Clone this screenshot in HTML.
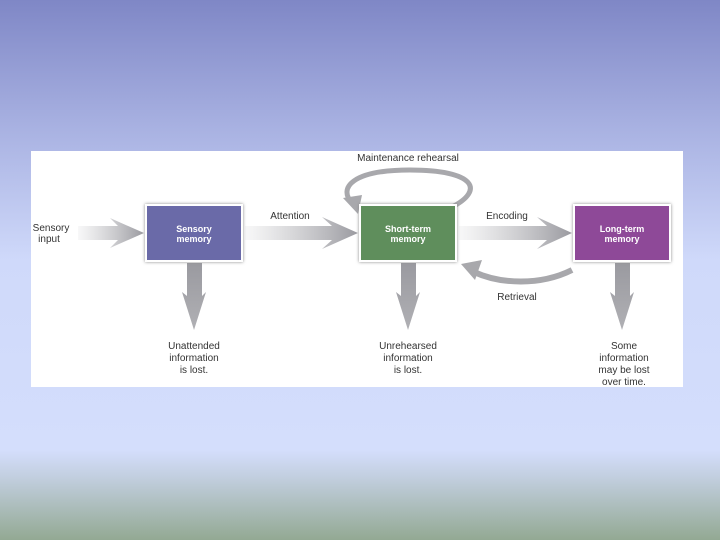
<!DOCTYPE html>
<html><head><style>
body{margin:0;width:720px;height:540px;overflow:hidden;font-family:"Liberation Sans",sans-serif;
background:linear-gradient(to bottom,#7f87c6 0px,#a9b2e2 130px,#cfd9fa 260px,#d4defc 450px,#c0cddc 480px,#93a993 540px);}
svg{position:absolute;left:0;top:0}
</style></head><body>
<svg width="720" height="540" xmlns="http://www.w3.org/2000/svg">
<defs>
<linearGradient id="gh" x1="0" x2="1" y1="0" y2="0"><stop offset="0" stop-color="#b8b8bc" stop-opacity="0.1"/><stop offset="1" stop-color="#9a9aa0"/></linearGradient>
<linearGradient id="gv" x1="0" x2="0" y1="0" y2="1"><stop offset="0" stop-color="#9a9aa0"/><stop offset="1" stop-color="#b0b0b4"/></linearGradient>
<filter id="sh"><feDropShadow dx="0" dy="0" stdDeviation="1.5" flood-color="#888"/></filter>
</defs>
<rect x="31" y="151" width="652" height="236" fill="#fff"/>
<path d="M78,226 H118 L110,218 L144,233 L110,248 L118,240 H78Z" fill="url(#gh)"/>
<path d="M245,226 H332 L322,217 L358,233 L322,249 L332,240 H245Z" fill="url(#gh)"/>
<path d="M459,226 H547 L537,217 L572,233 L537,249 L547,240 H459Z" fill="url(#gh)"/>
<path d="M187,263 H202 V296 L206,292 L194,330 L182,292 L187,296Z" fill="url(#gv)"/>
<path d="M401,263 H416 V296 L420,292 L408,330 L396,292 L401,296Z" fill="url(#gv)"/>
<path d="M615,263 H630 V296 L634,292 L622,330 L610,292 L615,296Z" fill="url(#gv)"/>
<path d="M452,207 C485,190 475,170 410,170 C352,170 338,188 352,203" fill="none" stroke="#a8a8ac" stroke-width="5"/>
<path d="M343,198 L358,214 L362,195Z" fill="#a8a8ac"/>
<path d="M572,270 C540,286 500,284 474,272" fill="none" stroke="#a8a8ac" stroke-width="6"/>
<path d="M461,264 L482,260 L475,280Z" fill="#a8a8ac"/>
<rect x="146" y="205" width="96" height="56" fill="#6a6aa8" stroke="#fff" stroke-width="2" filter="url(#sh)"/>
<rect x="360" y="205" width="96" height="56" fill="#5f8e5c" stroke="#fff" stroke-width="2" filter="url(#sh)"/>
<rect x="574" y="205" width="96" height="56" fill="#8e4a98" stroke="#fff" stroke-width="2" filter="url(#sh)"/>
<g font-family="Liberation Sans,sans-serif" font-size="9" font-weight="bold" fill="#fff" text-anchor="middle">
<text x="194" y="232">Sensory</text><text x="194" y="242">memory</text>
<text x="408" y="232">Short-term</text><text x="408" y="242">memory</text>
<text x="622" y="232">Long-term</text><text x="622" y="242">memory</text>
</g>
<g font-family="Liberation Sans,sans-serif" font-size="10" fill="#333" text-anchor="middle">
<text x="51" y="231">Sensory</text><text x="49" y="242">input</text>
<text x="290" y="219">Attention</text>
<text x="408" y="161">Maintenance rehearsal</text>
<text x="507" y="219">Encoding</text>
<text x="517" y="300">Retrieval</text>
<text x="194" y="349">Unattended</text><text x="194" y="361">information</text><text x="194" y="373">is lost.</text>
<text x="408" y="349">Unrehearsed</text><text x="408" y="361">information</text><text x="408" y="373">is lost.</text>
<text x="624" y="349">Some</text><text x="624" y="361">information</text><text x="624" y="373">may be lost</text><text x="624" y="385">over time.</text>
</g>
</svg>
</body></html>
